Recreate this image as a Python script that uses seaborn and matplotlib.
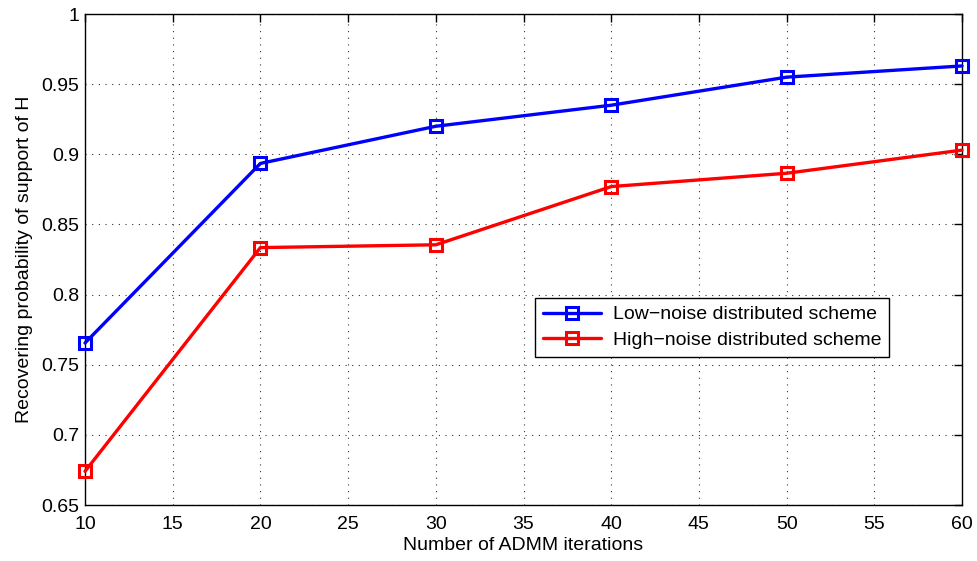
import pandas as pd
import matplotlib
matplotlib.use('Agg')
import matplotlib.pyplot as plt
import seaborn as sns

# data
iterations = [10, 20, 30, 40, 50, 60]
low_noise = [0.7655, 0.8935, 0.920, 0.935, 0.955, 0.963]
high_noise = [0.674, 0.8335, 0.8355, 0.877, 0.8865, 0.903]
series_names = ['Low\u2212noise distributed scheme', 'High\u2212noise distributed scheme']
x_ticks = [10, 15, 20, 25, 30, 35, 40, 45, 50, 55, 60]
y_ticks = [0.65, 0.7, 0.75, 0.8, 0.85, 0.9, 0.95, 1]
y_tick_labels = ['0.65', '0.7', '0.75', '0.8', '0.85', '0.9', '0.95', '1']

df = pd.DataFrame({
    'iter': iterations * 2,
    'prob': low_noise + high_noise,
    'scheme': [series_names[0]] * len(iterations) + [series_names[1]] * len(iterations),
})

sns.set_style('white')
plt.rcParams['font.family'] = ['Liberation Sans', 'DejaVu Sans']
plt.rcParams['text.color'] = 'black'
plt.rcParams['axes.labelcolor'] = 'black'
plt.rcParams['xtick.color'] = 'black'
plt.rcParams['ytick.color'] = 'black'

fig = plt.figure(figsize=(9.77, 5.61), dpi=100)
ax = fig.add_axes([0.087, 0.0998, 0.8977, 0.8752])

sns.lineplot(data=df, x='iter', y='prob', hue='scheme', ax=ax,
             palette=['#0000ff', '#ff0000'], marker='s', markersize=8.5,
             markerfacecolor='none', markeredgewidth=2.2, linewidth=2.4,
             clip_on=False, zorder=3)

# seaborn paints marker edges white; MATLAB-style squares use the line colour
for ln in ax.lines:
    ln.set_markeredgecolor(ln.get_color())

fs = 14
ax.set_xlim(10, 60)
ax.set_ylim(0.65, 1)
ax.set_xticks(x_ticks)
ax.set_yticks(y_ticks)
ax.set_yticklabels(y_tick_labels)
ax.grid(True, linestyle=(0, (1, 5)), color='black', linewidth=0.8, alpha=0.8)
ax.tick_params(direction='in', length=6, width=1, labelsize=fs, color='black',
               labelcolor='black', top=True, right=True, pad=4)
ax.tick_params(axis='x', pad=8)
for s in ax.spines.values():
    s.set_color('black')
    s.set_linewidth(1)

ax.set_xlabel('Number of ADMM iterations', fontsize=fs, labelpad=3)
ax.set_ylabel('Recovering probability of support of H', fontsize=fs, labelpad=6)

leg = ax.legend(loc='upper left', bbox_to_anchor=(0.513, 0.4216), borderaxespad=0,
                fontsize=fs, frameon=True, fancybox=False, edgecolor='black',
                framealpha=1, handlelength=3.0, borderpad=0.4, labelspacing=0.4,
                handletextpad=0.6)
leg.get_frame().set_linewidth(1)
for h in leg.get_lines():
    h.set_markeredgecolor(h.get_color())
    h.set_markerfacecolor('none')

fig.savefig('out.png', dpi=100)
